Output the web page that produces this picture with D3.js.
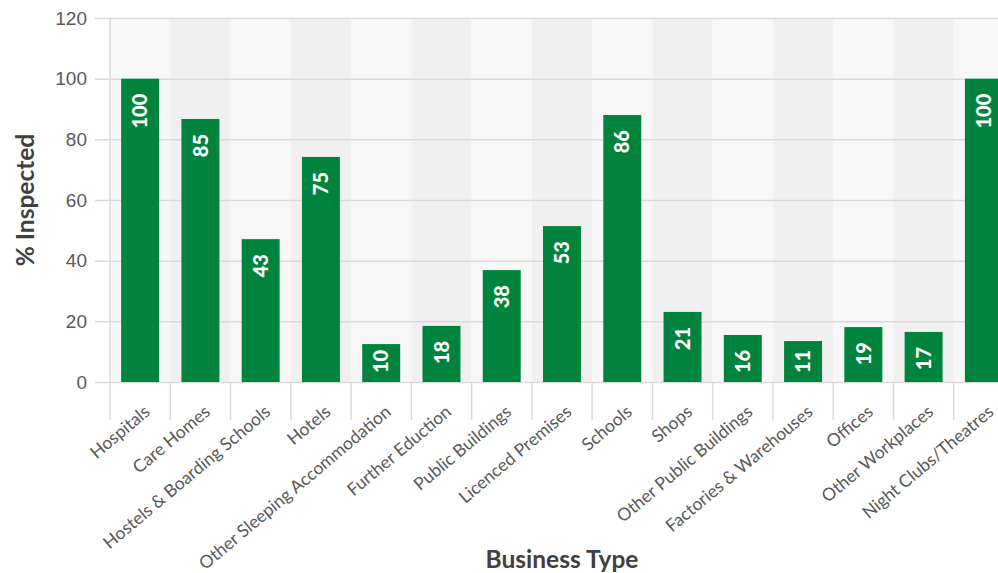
<!DOCTYPE html>
<html>
<head>
<meta charset="utf-8">
<script src="https://cdn.jsdelivr.net/npm/d3@7"></script>
<style>
  body { margin: 0; background: #fff; }
  svg { display: block; font-family: Lato, "Open Sans", sans-serif; }
</style>
</head>
<body>
<div id="chart"></div>
<script>
// categories along the x axis
const categories = [
    "Hospitals", "Care Homes", "Hostels & Boarding Schools", "Hotels",
    "Other Sleeping Accommodation", "Further Eduction", "Public Buildings",
    "Licenced Premises", "Schools", "Shops", "Other Public Buildings",
    "Factories & Warehouses", "Offices", "Other Workplaces", "Night Clubs/Theatres"
];

// bar heights as drawn (% inspected)
const inspected = [100, 86.7, 47.1, 74.2, 12.5, 18.5, 36.9, 51.4, 88.0, 23.1, 15.5, 13.5, 18.1, 16.5, 100];

// labels printed inside bars
const barLabels = ["100", "85", "43", "75", "10", "18", "38", "53", "86", "21", "16", "11", "19", "17", "100"];

const yTicks = [0, 20, 40, 60, 80, 100, 120];

const width = 998, height = 573;
const margin = { top: 18, left: 110, bottom: 382 };
const plotRight = 1014;

const svg = d3.select("#chart")
    .append("svg")
    .attr("width", width)
    .attr("height", height);

const x = d3.scaleBand()
    .domain(categories)
    .range([margin.left, plotRight])
    .paddingInner(0.37)
    .paddingOuter(0.185);

const bands = d3.scaleBand()
    .domain(categories)
    .range([margin.left, plotRight]);

const y = d3.scaleLinear()
    .domain([0, 120])
    .range([margin.bottom, margin.top]);

// alternating background bands
svg.append("g")
    .selectAll("rect")
    .data(categories)
    .enter().append("rect")
    .attr("x", d => bands(d))
    .attr("y", y(120))
    .attr("width", bands.bandwidth())
    .attr("height", y(0) - y(120))
    .attr("fill", (d, i) => i % 2 ? "#f0f0f0" : "#f7f7f7");

// gridlines + y labels
const yAxis = svg.append("g")
    .attr("transform", `translate(${margin.left},0)`)
    .call(d3.axisLeft(y).tickValues(yTicks).tickSize(15).tickPadding(8));
yAxis.select(".domain").remove();
yAxis.selectAll(".tick line")
    .attr("x2", width)
    .attr("x1", -15)
    .attr("stroke", "#d9d9d9")
    .attr("stroke-width", 1.5);
yAxis.selectAll(".tick text")
    .attr("fill", "#595959")
    .style("font-size", "19px");

// vertical axis line
svg.append("line")
    .attr("x1", margin.left).attr("x2", margin.left)
    .attr("y1", y(120)).attr("y2", y(0))
    .attr("stroke", "#d9d9d9")
    .attr("stroke-width", 1.5);

// category tick lines
svg.append("g")
    .selectAll("line")
    .data(categories)
    .enter().append("line")
    .attr("x1", d => bands(d)).attr("x2", d => bands(d))
    .attr("y1", y(0)).attr("y2", y(0) + 38)
    .attr("stroke", "#d9d9d9")
    .attr("stroke-width", 1.5);

// bars
svg.append("g")
    .selectAll("rect")
    .data(inspected)
    .enter().append("rect")
    .attr("x", (d, i) => x(categories[i]))
    .attr("y", d => y(d))
    .attr("width", x.bandwidth())
    .attr("height", d => y(0) - y(d))
    .attr("fill", "#00843d");

// value labels inside bars
svg.append("g")
    .selectAll("text")
    .data(inspected)
    .enter().append("text")
    .text((d, i) => barLabels[i])
    .attr("fill", "#fff")
    .attr("font-weight", "900")
    .style("font-size", "20px")
    .attr("text-anchor", "end")
    .attr("dy", "0.36em")
    .attr("transform", function(d, i) {
        const len = this.getComputedTextLength();
        const end = Math.min(y(d) + 15, y(0) - 9 - len);
        return `translate(${x(categories[i]) + x.bandwidth() / 2},${end}) rotate(-90)`;
    });

// x labels
svg.append("g")
    .selectAll("text")
    .data(categories)
    .enter().append("text")
    .text(d => d)
    .attr("fill", "#595959")
    .style("font-size", "17.5px")
    .attr("text-anchor", "end")
    .attr("dy", "0.35em")
    .attr("transform", d => `translate(${bands(d) + bands.bandwidth() / 2 + 7},${y(0) + 27}) rotate(-40)`);

// axis titles
svg.append("text")
    .text("% Inspected")
    .attr("fill", "#404040")
    .attr("font-weight", "bold")
    .style("font-size", "24.5px")
    .attr("text-anchor", "middle")
    .attr("transform", `translate(34,${(y(0) + y(120)) / 2}) rotate(-90)`);

svg.append("text")
    .text("Business Type")
    .attr("fill", "#404040")
    .attr("font-weight", "bold")
    .style("font-size", "24.5px")
    .attr("text-anchor", "middle")
    .attr("x", (margin.left + plotRight) / 2)
    .attr("y", 568);
</script>
</body>
</html>
